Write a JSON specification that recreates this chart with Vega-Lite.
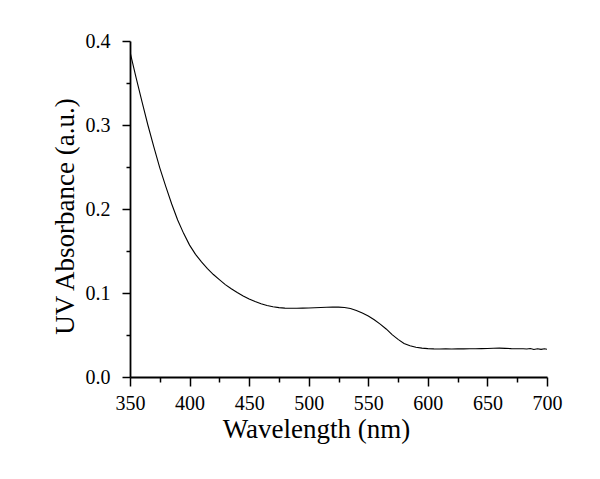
{
  "$schema": "https://vega.github.io/schema/vega-lite/v6.json",
  "autosize": "none",
  "width": 417,
  "height": 336,
  "padding": {"left": 130, "top": 41, "right": 53, "bottom": 102},
  "background": "white",
  "config": {
    "view": {"stroke": null},
    "font": "Liberation Serif"
  },
  "data": {
    "values": [
      {"w": 350, "a": 0.387}, {"w": 355, "a": 0.357}, {"w": 360, "a": 0.328},
      {"w": 365, "a": 0.300}, {"w": 370, "a": 0.274}, {"w": 375, "a": 0.249},
      {"w": 380, "a": 0.227}, {"w": 385, "a": 0.206}, {"w": 390, "a": 0.187},
      {"w": 395, "a": 0.171}, {"w": 400, "a": 0.157}, {"w": 405, "a": 0.146},
      {"w": 410, "a": 0.137}, {"w": 415, "a": 0.129}, {"w": 420, "a": 0.122},
      {"w": 425, "a": 0.116}, {"w": 430, "a": 0.110}, {"w": 435, "a": 0.105},
      {"w": 440, "a": 0.1005}, {"w": 445, "a": 0.0965}, {"w": 450, "a": 0.0930},
      {"w": 455, "a": 0.0898}, {"w": 460, "a": 0.0872}, {"w": 465, "a": 0.0852},
      {"w": 470, "a": 0.0836}, {"w": 475, "a": 0.0826}, {"w": 480, "a": 0.0820},
      {"w": 485, "a": 0.0818}, {"w": 490, "a": 0.0818}, {"w": 495, "a": 0.0820},
      {"w": 500, "a": 0.0822}, {"w": 505, "a": 0.0825}, {"w": 510, "a": 0.0828},
      {"w": 515, "a": 0.0830}, {"w": 520, "a": 0.0832}, {"w": 525, "a": 0.0832},
      {"w": 530, "a": 0.0828}, {"w": 535, "a": 0.0815}, {"w": 540, "a": 0.0792},
      {"w": 545, "a": 0.0762}, {"w": 550, "a": 0.0725}, {"w": 555, "a": 0.0682},
      {"w": 560, "a": 0.0630}, {"w": 565, "a": 0.0572}, {"w": 570, "a": 0.0505},
      {"w": 575, "a": 0.0448}, {"w": 580, "a": 0.0400}, {"w": 585, "a": 0.0372},
      {"w": 590, "a": 0.0355}, {"w": 595, "a": 0.0344}, {"w": 600, "a": 0.0338},
      {"w": 605, "a": 0.0335}, {"w": 610, "a": 0.0334}, {"w": 615, "a": 0.0336},
      {"w": 620, "a": 0.0334}, {"w": 625, "a": 0.0335}, {"w": 630, "a": 0.0335},
      {"w": 635, "a": 0.0336}, {"w": 640, "a": 0.0337}, {"w": 645, "a": 0.0338},
      {"w": 650, "a": 0.0340}, {"w": 655, "a": 0.0342}, {"w": 660, "a": 0.0344},
      {"w": 665, "a": 0.0341}, {"w": 670, "a": 0.0338}, {"w": 675, "a": 0.0337},
      {"w": 680, "a": 0.0336}, {"w": 683, "a": 0.0333}, {"w": 686, "a": 0.0339},
      {"w": 689, "a": 0.0327}, {"w": 692, "a": 0.0336}, {"w": 695, "a": 0.0329},
      {"w": 698, "a": 0.0336}, {"w": 700, "a": 0.0331}
    ]
  },
  "mark": {"type": "line", "color": "black", "strokeWidth": 1.1, "clip": true},
  "encoding": {
    "x": {
      "field": "w",
      "type": "quantitative",
      "scale": {"domain": [350, 700], "nice": false, "zero": false},
      "axis": {
        "title": "Wavelength (nm)",
        "values": [350, 375, 400, 425, 450, 475, 500, 525, 550, 575, 600, 625, 650, 675, 700],
        "labelExpr": "datum.value % 50 === 0 ? datum.value : ''",
        "grid": false,
        "domainColor": "black",
        "domainWidth": 1.8,
        "tickColor": "black",
        "tickWidth": 1.5,
        "tickSize": {"condition": {"test": "datum.value % 50 === 0", "value": 9}, "value": 5},
        "labelPadding": 7,
        "labelFont": "Liberation Serif",
        "labelFontSize": 20,
        "labelColor": "black",
        "labelFlush": false,
        "labelOverlap": false,
        "titleFont": "Liberation Serif",
        "titleFontSize": 27,
        "titleFontWeight": "normal",
        "titleColor": "black",
        "titleX": 186,
        "titleY": 60,
        "titleBaseline": "alphabetic",
        "titleAlign": "center"
      }
    },
    "y": {
      "field": "a",
      "type": "quantitative",
      "scale": {"domain": [0, 0.4], "nice": false},
      "axis": {
        "title": "UV Absorbance (a.u.)",
        "values": [0, 0.05, 0.1, 0.15, 0.2, 0.25, 0.3, 0.35, 0.4],
        "labelExpr": "round(datum.value * 100) % 10 === 0 ? format(datum.value, '.1f') : ''",
        "grid": false,
        "domainColor": "black",
        "domainWidth": 1.8,
        "tickColor": "black",
        "tickWidth": 1.5,
        "tickSize": {"condition": {"test": "round(datum.value * 100) % 10 === 0", "value": 8}, "value": 4},
        "labelPadding": 12,
        "labelFont": "Liberation Serif",
        "labelFontSize": 20,
        "labelColor": "black",
        "labelFlush": false,
        "labelOverlap": false,
        "titleFont": "Liberation Serif",
        "titleFontSize": 27,
        "titleFontWeight": "normal",
        "titleColor": "black",
        "titleX": -57,
        "titleY": 175,
        "titleAngle": -90,
        "titleBaseline": "alphabetic",
        "titleAlign": "center"
      }
    }
  }
}
